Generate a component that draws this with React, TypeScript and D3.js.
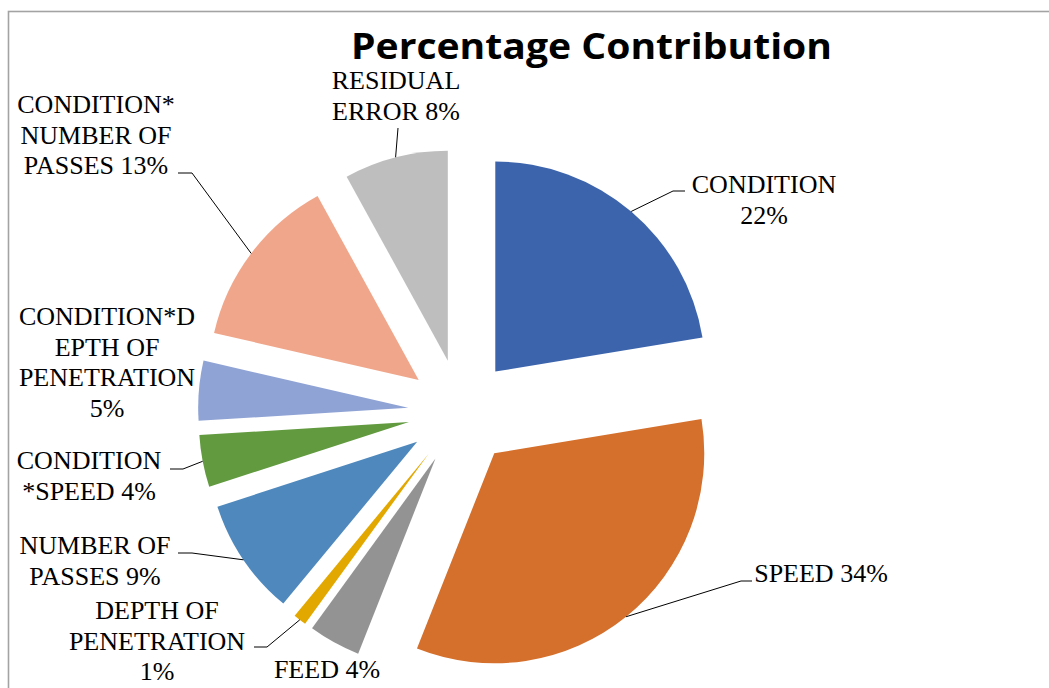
import React from "react";
import * as d3 from "d3";

const categories = [
  "CONDITION",
  "SPEED",
  "FEED",
  "DEPTH OF PENETRATION",
  "NUMBER OF PASSES",
  "CONDITION*SPEED",
  "CONDITION*DEPTH OF PENETRATION",
  "CONDITION*NUMBER OF PASSES",
  "RESIDUAL ERROR",
];
const values = [22.4, 33.6, 4.0, 1.0, 9.0, 4.0, 4.6, 13.4, 8.0];
const colors = [
  "#3C64AC",
  "#D46F2C",
  "#939393",
  "#E2A800",
  "#4E88BC",
  "#619A3F",
  "#8FA3D4",
  "#F0A68A",
  "#BEBEBE",
];
const labelLines = [
  ["CONDITION", "22%"],
  ["SPEED 34%"],
  ["FEED 4%"],
  ["DEPTH OF", "PENETRATION", "1%"],
  ["NUMBER OF", "PASSES 9%"],
  ["CONDITION", "*SPEED 4%"],
  ["CONDITION*D", "EPTH OF", "PENETRATION", "5%"],
  ["CONDITION*", "NUMBER OF", "PASSES 13%"],
  ["RESIDUAL", "ERROR 8%"],
];

// layout (label placement)
const labelLayout: { x: number; y: number; leader: [number, number][] | null }[] = [
  { x: 764, y: 193, leader: [[673, 191], [685, 191]] },
  { x: 821, y: 582, leader: [[741, 581], [752, 581]] },
  { x: 327, y: 678, leader: null },
  { x: 157, y: 619, leader: [[267, 647], [254, 647]] },
  { x: 95, y: 554, leader: [[192, 553], [178, 553]] },
  { x: 89, y: 469, leader: [[183, 469], [170, 469]] },
  { x: 107, y: 325, leader: null },
  { x: 96, y: 113, leader: [[192, 173], [178, 173]] },
  { x: 396, y: 89, leader: [[398, 128]] },
];

const W = 1049;
const H = 688;
const CX = 461;
const CY = 412;
const R = 210;
const EXPLODE = 53;
const LINE_H = 30.6;

export default function App() {
  const pie = d3
    .pie<number>()
    .sort(null)
    .value((d) => d)
    .startAngle(0)
    .endAngle(2 * Math.PI);
  const arcs = pie(values);
  const arcGen = d3.arc<d3.PieArcDatum<number>>().innerRadius(0).outerRadius(R);

  return (
    <svg
      width={W}
      height={H}
      style={{ position: "absolute", left: 0, top: 0, background: "#fff" }}
    >
      <rect x={8.5} y={11.5} width={1200} height={1000} fill="#fff" stroke="#A3A3A3" strokeWidth={1.6} />
      <text
        x={591.5}
        y={59}
        textAnchor="middle"
        fontFamily="'Open Sans', sans-serif"
        fontWeight={700}
        fontSize={35}
        textLength={481}
        lengthAdjust="spacingAndGlyphs"
        fill="#000"
      >
        Percentage Contribution
      </text>
      {arcs.map((a, i) => {
        const mid = (a.startAngle + a.endAngle) / 2;
        const dx = EXPLODE * Math.sin(mid);
        const dy = -EXPLODE * Math.cos(mid);
        return (
          <path
            key={categories[i]}
            d={arcGen(a) || ""}
            transform={`translate(${CX + dx},${CY + dy})`}
            fill={colors[i]}
          />
        );
      })}
      {arcs.map((a, i) => {
        const lay = labelLayout[i];
        if (!lay.leader) return null;
        const mid = (a.startAngle + a.endAngle) / 2;
        const px = CX + (R + EXPLODE) * Math.sin(mid);
        const py = CY - (R + EXPLODE) * Math.cos(mid);
        const pts: [number, number][] = [[px, py], ...lay.leader];
        return (
          <polyline
            key={"l" + i}
            points={pts.map((p) => p.join(",")).join(" ")}
            fill="none"
            stroke="#000"
            strokeWidth={1}
          />
        );
      })}
      {labelLines.map((lines, i) => {
        const lay = labelLayout[i];
        return (
          <text
            key={"t" + i}
            textAnchor="middle"
            fontFamily="'Liberation Serif', 'Times New Roman', serif"
            fontSize={26}
            fill="#000"
          >
            {lines.map((ln, j) => (
              <tspan key={j} x={lay.x} y={lay.y + j * LINE_H}>
                {ln}
              </tspan>
            ))}
          </text>
        );
      })}
    </svg>
  );
}
